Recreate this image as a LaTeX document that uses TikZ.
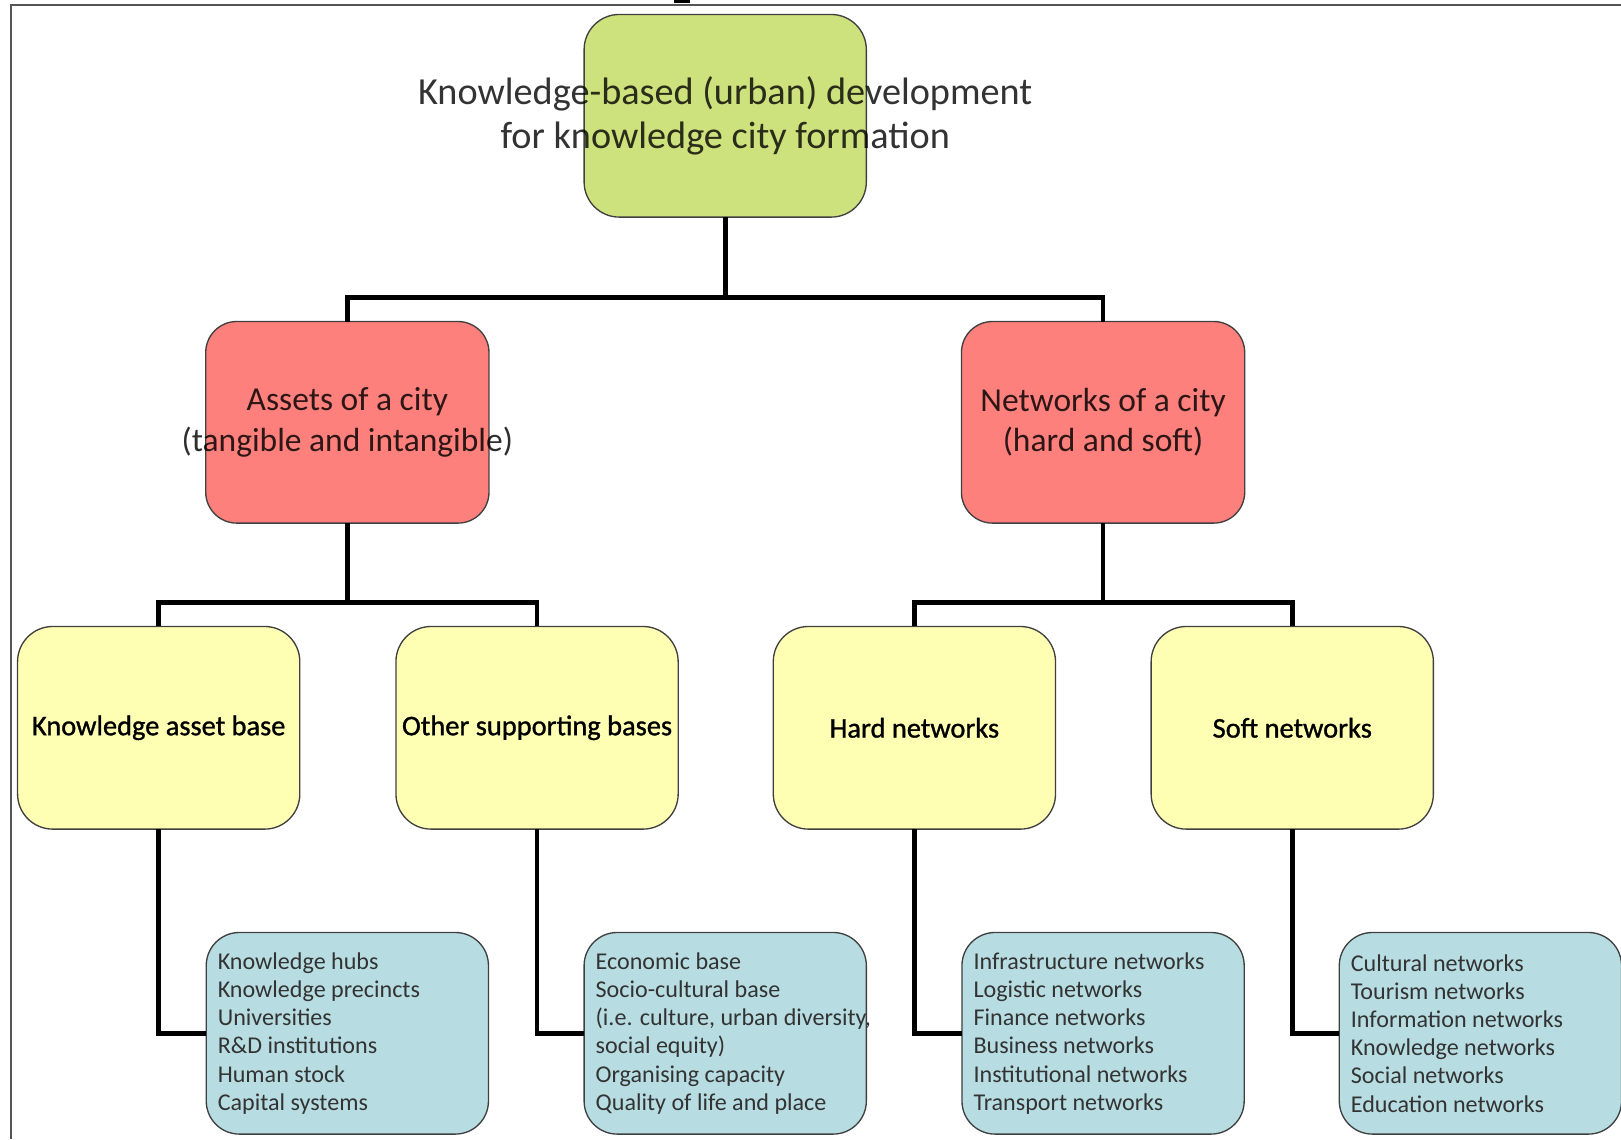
\documentclass[tikz,border=0pt]{standalone}
\usepackage{fontspec}
\setmainfont{Carlito}
\newfontfamily\medfont[FakeBold=1.1]{Carlito}
\definecolor{topgreen}{HTML}{CDE17D}
\definecolor{midred}{HTML}{FD807C}
\definecolor{lowyellow}{HTML}{FFFFB4}
\definecolor{leafblue}{HTML}{B7DDE2}
\definecolor{framegray}{HTML}{555555}
\begin{document}
\begin{tikzpicture}[x=1pt,y=-1pt,
  box/.style={draw=black!75, line width=1.3pt, inner sep=0pt, outer sep=0pt},
  topbox/.style={box, fill=topgreen, rounded corners=34pt, minimum width=273pt, minimum height=196pt},
  redbox/.style={box, fill=midred, rounded corners=30pt, minimum width=274pt, minimum height=195pt},
  yelbox/.style={box, fill=lowyellow, rounded corners=34pt, minimum width=273pt, minimum height=196pt},
  bluebox/.style={box, fill=leafblue, rounded corners=32pt, minimum width=273pt, minimum height=195pt},
  toptext/.style={align=center, text=black, text opacity=0.8, font=\fontsize{37}{43}\selectfont},
  redtext/.style={align=center, text=black, text opacity=0.82, font=\fontsize{32.4}{39}\selectfont},
  yeltext/.style={align=center, text=black, font=\medfont\fontsize{27.5}{30}\selectfont},
  leaftext/.style={align=left, anchor=west, text=black!80, font=\fontsize{23.3}{27.3}\selectfont, inner sep=0pt},
  conn/.style={line width=4.6pt, black, line join=miter}]

\useasboundingbox (0,0) rectangle (1568,1102);

% page frame and cut-off mark
\draw[framegray, line width=2.4pt] (10.5,1102) -- (10.5,5) -- (1568,5);
\fill[black] (652,0) rectangle (667,2.5);

% boxes
\node[topbox] (top) at (701.5,112) {};
\node[redbox] (assets) at (336,408.5) {};
\node[redbox] (nets) at (1067,408.5) {};
\node[yelbox] (kab) at (153.5,704) {};
\node[yelbox] (osb) at (519.5,704) {};
\node[yelbox] (hard) at (884.5,704) {};
\node[yelbox] (soft) at (1250,704) {};
\node[bluebox] (kabl) at (336,999.5) {};
\node[bluebox] (osbl) at (701.5,999.5) {};
\node[bluebox] (hardl) at (1067,999.5) {};
\node[bluebox] (softl) at (1432,999.5) {};

% connectors
\coordinate (j0) at (701.5,288);
\coordinate (j1) at (336,583);
\coordinate (j2) at (1067,583);
\draw[conn] (top.south) -- (j0);
\draw[conn] (assets.north) |- (j0) -| (nets.north);
\draw[conn] (assets.south) -- (j1);
\draw[conn] (kab.north) |- (j1) -| (osb.north);
\draw[conn] (nets.south) -- (j2);
\draw[conn] (hard.north) |- (j2) -| (soft.north);
\draw[conn] (kab.south) |- (kabl.west);
\draw[conn] (osb.south) |- (osbl.west);
\draw[conn] (hard.south) |- (hardl.west);
\draw[conn] (soft.south) |- (softl.west);

% labels
\node[toptext] (toplab) at (top.center) {Knowledge-based (urban) development\\for knowledge city formation};
\node[redtext] (assetslab) at (assets.center) {Assets of a city\\(tangible and intangible)};
\node[redtext] (netslab) at (nets.center) {Networks of a city\\(hard and soft)};
\node[yeltext] (kablab) at (kab.center) {Knowledge asset base};
\node[yeltext] (osblab) at (osb.center) {Other supporting bases};
\node[yeltext] (hardlab) at (hard.center) {Hard networks};
\node[yeltext] (softlab) at (soft.center) {Soft networks};

\node[leaftext] (kabltext) at ([xshift=11pt]kabl.west) {Knowledge hubs\\Knowledge precincts\\Universities\\R\&D institutions\\Human stock\\Capital systems};
\node[leaftext] (osbltext) at ([xshift=11pt]osbl.west) {Economic base\\Socio-cultural base\\(i.e. culture, urban diversity,\\social equity)\\Organising capacity\\Quality of life and place};
\node[leaftext] (hardltext) at ([xshift=11pt]hardl.west) {Infrastructure networks\\Logistic networks\\Finance networks\\Business networks\\Institutional networks\\Transport networks};
\node[leaftext] (softltext) at ([xshift=11pt]softl.west) {Cultural networks\\Tourism networks\\Information networks\\Knowledge networks\\Social networks\\Education networks};
\end{tikzpicture}
\end{document}
